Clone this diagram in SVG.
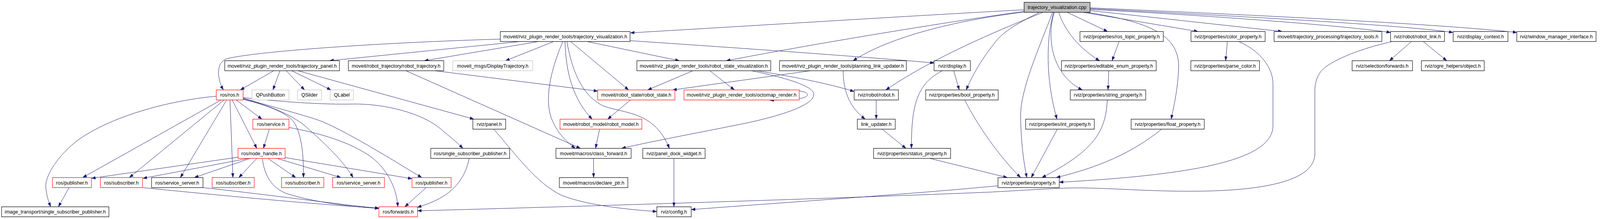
<svg xmlns="http://www.w3.org/2000/svg" width="4351" height="560" viewBox="0 0 4351 560">
<style>
.node rect{fill:#ffffff;stroke:#000000;stroke-width:1.2}
.node.red rect{stroke:#ff0000}
.node.gray rect{stroke:#bfbfbf}
.node.root rect{fill:#bfbfbf}
.node text{font-family:"Liberation Sans",Arial,sans-serif;font-size:13.3px;text-anchor:middle;fill:#000000}
#edges path{fill:none;stroke:#191970;stroke-width:1}
</style>
<defs>
<marker id="arr" markerUnits="userSpaceOnUse" markerWidth="11" markerHeight="8" viewBox="0 0 10 7" refX="10" refY="3.5" orient="auto">
<path d="M0,0 L10,3.5 L0,7 z" fill="#191970" stroke="#191970" stroke-width="0.5"/>
</marker>
</defs>
<rect x="0" y="0" width="4351" height="560" fill="#ffffff"/>
<g id="diagram" transform="scale(0.9405 1)">
<g id="edges" fill="none" stroke="#191970" stroke-width="1" marker-end="url(#arr)">
<path d="M2787.5,25 C2450,42 2050,66 1716,84"/>
<path d="M2787.5,29 C2550,60 2200,115 1977,155.3"/>
<path d="M2787.5,31 C2600,52 2420,95 2322,155.3"/>
<path d="M2839,31.5 C2760,62 2560,135 2411,230"/>
<path d="M2829,31.5 C2780,55 2740,75 2716,100 C2680,140 2650,185 2630,230"/>
<path d="M2905,31.5 L3015,80.6"/>
<path d="M2882,31.5 C2898,80 2940,125 2993,155.3"/>
<path d="M2870,31.5 C2852,80 2852,185 2946,230"/>
<path d="M2868,31.5 C2848,95 2845,200 2877,304.7"/>
<path d="M2865,31.5 C2830,120 2776,230 2778,300 C2780,380 2788,420 2795,454.1"/>
<path d="M2958,31.5 C3120,55 3215,85 3208,180 C3204,240 3195,270 3188,304.7"/>
<path d="M2948,31.5 L3261,80.6"/>
<path d="M2967,27 L3490,80.6"/>
<path d="M2967,24 C3300,40 3650,65 3785,83"/>
<path d="M2967,22 C3300,38 3800,62 3955,83"/>
<path d="M2967,20 C3400,38 3900,60 4129,83"/>
<path d="M1362,100 C1000,110 690,133 618,150 C588,158 590,200 608,230"/>
<path d="M1416,106.2 L897,155.3"/>
<path d="M1466,106.2 L1155,155.3"/>
<path d="M1507,106.2 L1376,155.3"/>
<path d="M1532,106.2 C1505,165 1480,245 1500,300 C1515,340 1545,365 1566,379.4"/>
<path d="M1538,106.2 C1540,185 1560,255 1612,304.7"/>
<path d="M1543,106.2 C1560,195 1590,245 1640,270 C1700,292 1780,282 1822,379.4"/>
<path d="M1553,106.2 L1711,230"/>
<path d="M1598,106.2 L1849,155.3"/>
<path d="M1715,104 C2000,122 2350,145 2543,161"/>
<path d="M745,180.9 L654,230"/>
<path d="M762,180.9 L743,230"/>
<path d="M779,180.9 L829,230"/>
<path d="M794,180.9 L901,230"/>
<path d="M811,180.9 L1290,304.7"/>
<path d="M1105,180.9 L1580,379.4"/>
<path d="M1184,180.9 L1627,233"/>
<path d="M1886,180.9 L1763,230"/>
<path d="M1932,180.9 L1999,230"/>
<path d="M2060,180.9 C2150,195 2250,212 2325,234"/>
<path d="M2045,180.9 C2120,195 2200,215 2213,235 C2228,262 2150,290 2040,313 C1900,340 1780,360 1692,379.4"/>
<path d="M2095,230 C2160,228 2198,233 2198,242 C2198,252 2160,256 2095,256"/>
<path d="M2206,180.9 L1831,230"/>
<path d="M2295,180.9 C2296,232 2310,272 2355,304.7"/>
<path d="M2565,180.9 C2500,212 2480,262 2481,379.4"/>
<path d="M2596,180.9 L2611,230"/>
<path d="M2385,255.6 L2385,304.7"/>
<path d="M2401,330.3 L2466,379.4"/>
<path d="M2531,405 L2742,454.1"/>
<path d="M2626,255.6 C2660,320 2720,400 2778,454.1"/>
<path d="M3014,255.6 C3010,335 2980,385 2836,454.1"/>
<path d="M2878,330.3 L2807,454.1"/>
<path d="M3162,330.3 C3080,392 2990,428 2875,454.1"/>
<path d="M3372,106.2 C3440,135 3465,180 3465,215 L3465,321 C3465,400 3300,445 2883.2,466"/>
<path d="M3341,106.2 L3336,155.3"/>
<path d="M3046,106.2 L3027,155.3"/>
<path d="M3018,180.9 L3016,230"/>
<path d="M3842,106.2 L3782,155.3"/>
<path d="M3874,106.2 L3938,155.3"/>
<path d="M3790,106.2 C3700,125 3640,150 3610,170 C3590,183 3579,205 3579,232 L3579,393 C3579,460 3450,489 3240,489 C3100,489 2990,478 2900,481 C2820,484 2760,488 2700,491 C2400,503 1700,525 1136.4,539"/>
<path d="M2716.4,475 C2500,495 2100,520 1881.4,536"/>
<path d="M1344,330.3 C1400,390 1460,470 1530,500 C1600,525 1700,535 1787.9,541"/>
<path d="M1834.4,405 L1834.4,528.8"/>
<path d="M1716,255.6 L1654,304.7"/>
<path d="M1632,330.3 L1621,379.4"/>
<path d="M1615.7,405 L1615.7,454.1"/>
<path d="M588.6,246 C450,258 300,300 214,357 C160,395 120,450 125,482 C127,500 132,515 138,528.8"/>
<path d="M602,255.6 L225,454.1"/>
<path d="M610,255.6 L352,454.1"/>
<path d="M617,255.6 L491,454.1"/>
<path d="M626,255.6 L634,454.1"/>
<path d="M632,255.6 L699,379.4"/>
<path d="M643,255.6 L713,304.7"/>
<path d="M661.8,254 C730,270 790,290 805,320 C825,360 826,410 826,454.1"/>
<path d="M661.8,252.5 C740,272 800,295 840,330 C900,380 940,420 961,454.1"/>
<path d="M661.8,251 C760,278 850,300 880,312 C960,345 1070,410 1148,454.1"/>
<path d="M661.8,249.5 C760,260 880,268 961,266 C1050,265 1150,290 1200,330 C1225,350 1245,365 1260,379.4"/>
<path d="M733,330.3 L717,379.4"/>
<path d="M786.4,326 C900,345 1000,380 1040,428 C1068,462 1080,492 1083,528.8"/>
<path d="M647.9,402 L249,456"/>
<path d="M676,405 L389,456"/>
<path d="M681,405 L529,454.1"/>
<path d="M699,405 L650,454.1"/>
<path d="M729,405 L805,454.1"/>
<path d="M754,405 L928,454.1"/>
<path d="M776,403 L1121.4,457"/>
<path d="M714,405 C720,450 740,480 780,495 C860,518 950,528 1031.4,533"/>
<path d="M389,479.7 C600,500 900,526 1031.4,532"/>
<path d="M552.5,479.7 C750,500 950,526 1031.4,532.5"/>
<path d="M188,479.7 L159,528.8"/>
<path d="M1160,479.7 L1102,528.8"/>
<path d="M1277,405 C1265,460 1230,505 1136,530"/>
</g>
<g id="nodes" font-family="'Liberation Sans', Arial, sans-serif" font-size="13.3" text-anchor="middle">
<g id="n0" class="node root"><rect x="2787.5" y="5.9" width="179.6" height="25.6"/><text x="2877.3" y="23.4" text-anchor="middle">trajectory_visualization.cpp</text></g>
<g id="n1" class="node"><rect x="1361.8" y="80.6" width="353.2" height="25.6"/><text x="1538.4" y="98.1" text-anchor="middle">moveit/rviz_plugin_render_tools/trajectory_visualization.h</text></g>
<g id="n2" class="node"><rect x="2939.6" y="80.6" width="226.8" height="25.6"/><text x="3053" y="98.1" text-anchor="middle">rviz/properties/ros_topic_property.h</text></g>
<g id="n3" class="node"><rect x="3241.8" y="80.6" width="201.8" height="25.6"/><text x="3342.7" y="98.1" text-anchor="middle">rviz/properties/color_property.h</text></g>
<g id="n4" class="node"><rect x="3467.9" y="80.6" width="293.5" height="25.6"/><text x="3614.65" y="98.1" text-anchor="middle">moveit/trajectory_processing/trajectory_tools.h</text></g>
<g id="n5" class="node"><rect x="3785" y="80.6" width="146.8" height="25.6"/><text x="3858.4" y="98.1" text-anchor="middle">rviz/robot/robot_link.h</text></g>
<g id="n6" class="node"><rect x="3955.4" y="80.6" width="149.2" height="25.6"/><text x="4030" y="98.1" text-anchor="middle">rviz/display_context.h</text></g>
<g id="n7" class="node"><rect x="4128.6" y="80.6" width="215.7" height="25.6"/><text x="4236.45" y="98.1" text-anchor="middle">rviz/window_manager_interface.h</text></g>
<g id="n8" class="node"><rect x="611.8" y="155.3" width="312.1" height="25.6"/><text x="767.85" y="172.8" text-anchor="middle">moveit/rviz_plugin_render_tools/trajectory_panel.h</text></g>
<g id="n9" class="node"><rect x="948.2" y="155.3" width="259.7" height="25.6"/><text x="1078.05" y="172.8" text-anchor="middle">moveit/robot_trajectory/robot_trajectory.h</text></g>
<g id="n10" class="node gray"><rect x="1232.5" y="155.3" width="217.5" height="25.6"/><text x="1341.25" y="172.8" text-anchor="middle">moveit_msgs/DisplayTrajectory.h</text></g>
<g id="n11" class="node"><rect x="1733.6" y="155.3" width="364.3" height="25.6"/><text x="1915.75" y="172.8" text-anchor="middle">moveit/rviz_plugin_render_tools/robot_state_visualization.h</text></g>
<g id="n12" class="node"><rect x="2121.8" y="155.3" width="345.3" height="25.6"/><text x="2294.45" y="172.8" text-anchor="middle">moveit/rviz_plugin_render_tools/planning_link_updater.h</text></g>
<g id="n13" class="node"><rect x="2542.5" y="155.3" width="98.9" height="25.6"/><text x="2591.95" y="172.8" text-anchor="middle">rviz/display.h</text></g>
<g id="n14" class="node"><rect x="2889.3" y="155.3" width="257.8" height="25.6"/><text x="3018.2" y="172.8" text-anchor="middle">rviz/properties/editable_enum_property.h</text></g>
<g id="n15" class="node"><rect x="3241.4" y="155.3" width="186.8" height="25.6"/><text x="3334.8" y="172.8" text-anchor="middle">rviz/properties/parse_color.h</text></g>
<g id="n16" class="node"><rect x="3680.4" y="155.3" width="164.2" height="25.6"/><text x="3762.5" y="172.8" text-anchor="middle">rviz/selection/forwards.h</text></g>
<g id="n17" class="node"><rect x="3868.9" y="155.3" width="171.1" height="25.6"/><text x="3954.45" y="172.8" text-anchor="middle">rviz/ogre_helpers/object.h</text></g>
<g id="n18" class="node red"><rect x="588.6" y="230" width="73.2" height="25.6"/><text x="625.2" y="247.5" text-anchor="middle">ros/ros.h</text></g>
<g id="n19" class="node gray"><rect x="685.7" y="230" width="100.7" height="25.6"/><text x="736.05" y="247.5" text-anchor="middle">QPushButton</text></g>
<g id="n20" class="node gray"><rect x="809.6" y="230" width="65.8" height="25.6"/><text x="842.5" y="247.5" text-anchor="middle">QSlider</text></g>
<g id="n21" class="node gray"><rect x="898.9" y="230" width="63.2" height="25.6"/><text x="930.5" y="247.5" text-anchor="middle">QLabel</text></g>
<g id="n22" class="node red"><rect x="1626.8" y="230" width="210.3" height="25.6"/><text x="1731.95" y="247.5" text-anchor="middle">moveit/robot_state/robot_state.h</text></g>
<g id="n23" class="node red"><rect x="1861.8" y="230" width="313.6" height="25.6"/><text x="2018.6" y="247.5" text-anchor="middle">moveit/rviz_plugin_render_tools/octomap_render.h</text></g>
<g id="n24" class="node"><rect x="2325" y="230" width="120.4" height="25.6"/><text x="2385.2" y="247.5" text-anchor="middle">rviz/robot/robot.h</text></g>
<g id="n25" class="node"><rect x="2519.6" y="230" width="197.5" height="25.6"/><text x="2618.35" y="247.5" text-anchor="middle">rviz/properties/bool_property.h</text></g>
<g id="n26" class="node"><rect x="2913.2" y="230" width="205.4" height="25.6"/><text x="3015.9" y="247.5" text-anchor="middle">rviz/properties/string_property.h</text></g>
<g id="n27" class="node red"><rect x="688.2" y="304.7" width="98.2" height="25.6"/><text x="737.3" y="322.2" text-anchor="middle">ros/service.h</text></g>
<g id="n28" class="node"><rect x="1287.1" y="304.7" width="89.3" height="25.6"/><text x="1331.75" y="322.2" text-anchor="middle">rviz/panel.h</text></g>
<g id="n29" class="node red"><rect x="1524.3" y="304.7" width="222.8" height="25.6"/><text x="1635.7" y="322.2" text-anchor="middle">moveit/robot_model/robot_model.h</text></g>
<g id="n30" class="node"><rect x="2333.6" y="304.7" width="103.2" height="25.6"/><text x="2385.2" y="322.2" text-anchor="middle">link_updater.h</text></g>
<g id="n31" class="node"><rect x="2791.8" y="304.7" width="186.8" height="25.6"/><text x="2885.2" y="322.2" text-anchor="middle">rviz/properties/int_property.h</text></g>
<g id="n32" class="node"><rect x="3078.9" y="304.7" width="199" height="25.6"/><text x="3178.4" y="322.2" text-anchor="middle">rviz/properties/float_property.h</text></g>
<g id="n33" class="node red"><rect x="647.9" y="379.4" width="128.2" height="25.6"/><text x="712" y="396.9" text-anchor="middle">ros/node_handle.h</text></g>
<g id="n34" class="node"><rect x="1172.5" y="379.4" width="214.6" height="25.6"/><text x="1279.8" y="396.9" text-anchor="middle">ros/single_subscriber_publisher.h</text></g>
<g id="n35" class="node"><rect x="1513.2" y="379.4" width="204.7" height="25.6"/><text x="1615.55" y="396.9" text-anchor="middle">moveit/macros/class_forward.h</text></g>
<g id="n36" class="node"><rect x="1749.6" y="379.4" width="169.7" height="25.6"/><text x="1834.45" y="396.9" text-anchor="middle">rviz/panel_dock_widget.h</text></g>
<g id="n37" class="node"><rect x="2377.9" y="379.4" width="209.6" height="25.6"/><text x="2482.7" y="396.9" text-anchor="middle">rviz/properties/status_property.h</text></g>
<g id="n38" class="node red"><rect x="142.9" y="454.1" width="106" height="25.6"/><text x="195.9" y="471.6" text-anchor="middle">ros/publisher.h</text></g>
<g id="n39" class="node red"><rect x="273.2" y="454.1" width="114.7" height="25.6"/><text x="330.55" y="471.6" text-anchor="middle">ros/subscriber.h</text></g>
<g id="n40" class="node"><rect x="412.5" y="454.1" width="140" height="25.6"/><text x="482.5" y="471.6" text-anchor="middle">ros/service_server.h</text></g>
<g id="n41" class="node red"><rect x="577.5" y="454.1" width="114.6" height="25.6"/><text x="634.8" y="471.6" text-anchor="middle">ros/subscriber.h</text></g>
<g id="n42" class="node red"><rect x="766.4" y="454.1" width="115" height="25.6"/><text x="823.9" y="471.6" text-anchor="middle">ros/subscriber.h</text></g>
<g id="n43" class="node red"><rect x="905.4" y="454.1" width="141" height="25.6"/><text x="975.9" y="471.6" text-anchor="middle">ros/service_server.h</text></g>
<g id="n44" class="node red"><rect x="1121.4" y="454.1" width="106.5" height="25.6"/><text x="1174.65" y="471.6" text-anchor="middle">ros/publisher.h</text></g>
<g id="n45" class="node"><rect x="1522.5" y="454.1" width="186.4" height="25.6"/><text x="1615.7" y="471.6" text-anchor="middle">moveit/macros/declare_ptr.h</text></g>
<g id="n46" class="node"><rect x="2716.4" y="454.1" width="166.8" height="25.6"/><text x="2799.8" y="471.6" text-anchor="middle">rviz/properties/property.h</text></g>
<g id="n47" class="node"><rect x="4.3" y="528.8" width="292.1" height="25.6"/><text x="150.35" y="546.3" text-anchor="middle">image_transport/single_subscriber_publisher.h</text></g>
<g id="n48" class="node red"><rect x="1031.4" y="528.8" width="105" height="25.6"/><text x="1083.9" y="546.3" text-anchor="middle">ros/forwards.h</text></g>
<g id="n49" class="node"><rect x="1787.9" y="528.8" width="93.5" height="25.6"/><text x="1834.65" y="546.3" text-anchor="middle">rviz/config.h</text></g>
</g>
</g>
</svg>
